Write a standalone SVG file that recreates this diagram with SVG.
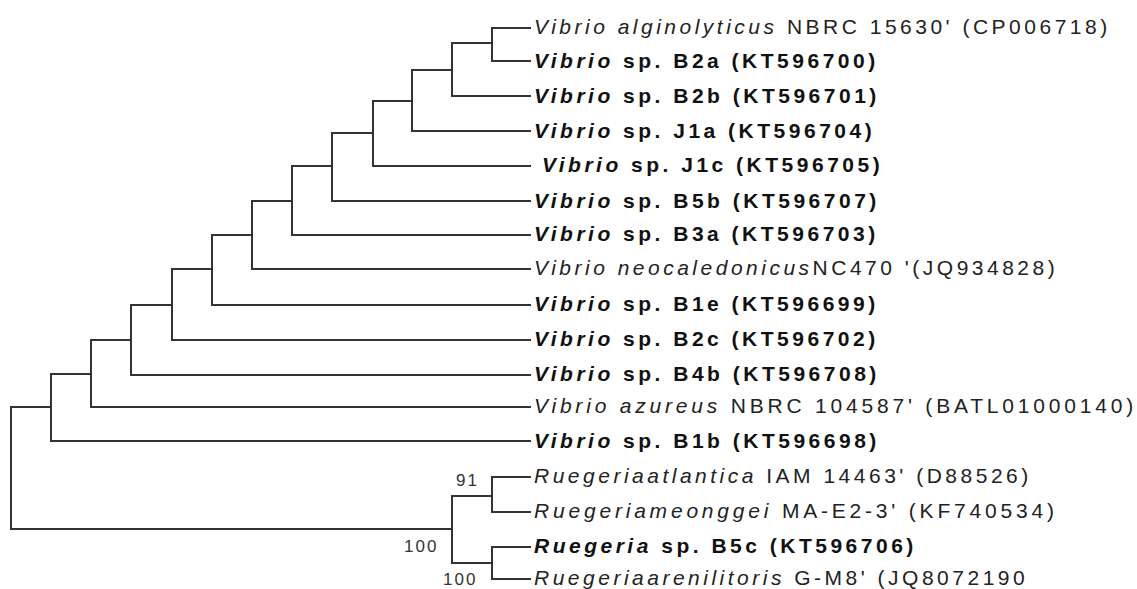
<svg xmlns="http://www.w3.org/2000/svg" width="1137" height="589" viewBox="0 0 1137 589">
  <style>
    .br { fill: none; stroke: #333; stroke-width: 2; stroke-linecap: square; stroke-linejoin: miter; }
    .lbl { font-family: "Liberation Sans", Arial, sans-serif; font-size: 21px; letter-spacing: 3.5px; fill: #222; }
    .wide { letter-spacing: 3.8px; }
    .b { font-weight: bold; fill: #111; }
    .i { font-style: italic; }
    .bs { font-family: "Liberation Sans", Arial, sans-serif; font-size: 17px; letter-spacing: 2px; fill: #333; }
  </style>
  <rect width="1137" height="589" fill="#fff"/>

  <!-- branches of the tree -->
  <g id="branches" class="br">
    <path d="M530,28 H492 V61 H530"/>
    <path d="M492,43 H452 V96 H530"/>
    <path d="M452,70 H412 V131 H530"/>
    <path d="M412,101 H373 V166 H530"/>
    <path d="M373,133 H332 V201 H530"/>
    <path d="M332,166 H292 V235 H530"/>
    <path d="M292,201 H252 V269 H530"/>
    <path d="M252,235 H212 V305 H530"/>
    <path d="M212,269 H172 V340 H530"/>
    <path d="M172,305 H131 V375 H530"/>
    <path d="M131,340 H91 V407 H530"/>
    <path d="M91,374 H51 V441 H530"/>
    <path d="M51,407 H11 V529 H452"/>
    <path d="M492,496 H452 V563 H492"/>
    <path d="M530,477 H492 V512 H530"/>
    <path d="M530,547 H492 V579 H530"/>
  </g>

  <!-- bootstrap support values -->
  <g id="bootstrap" class="bs">
    <text x="456" y="486">91</text>
    <text x="404" y="552">100</text>
    <text x="443" y="585">100</text>
  </g>

  <!-- taxa -->
  <g id="t-alginolyticus"><text class="lbl" x="534" y="34"><tspan class="i">Vibrio alginolyticus</tspan> NBRC 15630' (CP006718)</text></g>
  <g id="t-B2a"><text class="lbl b" x="534" y="68"><tspan class="i">Vibrio</tspan> sp. B2a (KT596700)</text></g>
  <g id="t-B2b"><text class="lbl b" x="534" y="103"><tspan class="i">Vibrio</tspan> sp. B2b (KT596701)</text></g>
  <g id="t-J1a"><text class="lbl b" x="534" y="138"><tspan class="i">Vibrio</tspan> sp. J1a (KT596704)</text></g>
  <g id="t-J1c"><text class="lbl b" x="542" y="172"><tspan class="i">Vibrio</tspan> sp. J1c (KT596705)</text></g>
  <g id="t-B5b"><text class="lbl b" x="534" y="208"><tspan class="i">Vibrio</tspan> sp. B5b (KT596707)</text></g>
  <g id="t-B3a"><text class="lbl b" x="534" y="241"><tspan class="i">Vibrio</tspan> sp. B3a (KT596703)</text></g>
  <g id="t-neocaledonicus"><text class="lbl" x="534" y="275"><tspan class="i">Vibrio neocaledonicus</tspan>NC470 '(JQ934828)</text></g>
  <g id="t-B1e"><text class="lbl b" x="534" y="311"><tspan class="i">Vibrio</tspan> sp. B1e (KT596699)</text></g>
  <g id="t-B2c"><text class="lbl b" x="534" y="346"><tspan class="i">Vibrio</tspan> sp. B2c (KT596702)</text></g>
  <g id="t-B4b"><text class="lbl b" x="534" y="381"><tspan class="i">Vibrio</tspan> sp. B4b (KT596708)</text></g>
  <g id="t-azureus"><text class="lbl wide" x="534" y="413"><tspan class="i">Vibrio azureus</tspan> NBRC 104587' (BATL01000140)</text></g>
  <g id="t-B1b"><text class="lbl b" x="534" y="448"><tspan class="i">Vibrio</tspan> sp. B1b (KT596698)</text></g>
  <g id="t-atlantica"><text class="lbl" x="534" y="483"><tspan class="i">Ruegeriaatlantica</tspan> IAM 14463' (D88526)</text></g>
  <g id="t-meonggei"><text class="lbl wide" x="534" y="518"><tspan class="i">Ruegeriameonggei</tspan> MA-E2-3' (KF740534)</text></g>
  <g id="t-B5c"><text class="lbl b" x="534" y="553"><tspan class="i">Ruegeria</tspan> sp. B5c (KT596706)</text></g>
  <g id="t-arenilitoris"><text class="lbl" x="534" y="585"><tspan class="i">Ruegeriaarenilitoris</tspan> G-M8' (JQ8072190</text></g>
</svg>
